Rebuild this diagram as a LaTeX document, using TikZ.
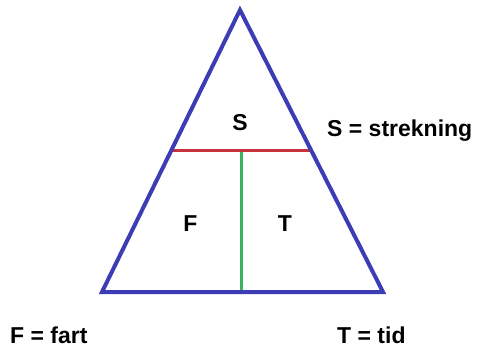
\documentclass[tikz,border=0pt]{standalone}
\usepackage{fontspec}
\setmainfont{Liberation Sans}
\usetikzlibrary{calc}
\definecolor{triblue}{RGB}{60,60,180}
\definecolor{linered}{RGB}{200,50,60}
\definecolor{linegreen}{RGB}{60,180,95}
\begin{document}
\begin{tikzpicture}[x=1pt,y=-1pt,
  edge/.style={line width=4pt,line join=miter},
  lbl/.style={font=\fontsize{23}{26}\selectfont\bfseries,inner sep=0pt,text depth=0pt}]
\useasboundingbox (0,0) rectangle (477,350);
\coordinate (top) at (240,10);
\coordinate (bl) at (102,292);
\coordinate (br) at (383,292);
\coordinate (rl) at ($(top)!0.5!(bl)$);
\coordinate (rr) at ($(top)!0.5!(br)$);
\coordinate (gt) at (241,151);
\coordinate (gb) at (241,292);
\draw[edge,linegreen,line width=3pt] (gt) -- (gb);
\draw[edge,linered,line width=3pt] (rl) -- (rr);
\draw[edge,triblue] (top) -- (bl) -- (br) -- cycle;
\node[lbl,anchor=base] (s) at (240,130.5) {S};
\node[lbl,anchor=base] (f) at (190.5,232) {F};
\node[lbl,anchor=base] (t) at (285,232) {T};
\node[lbl,anchor=base west] (sdef) at (327,136.5) {S = strekning};
\node[lbl,anchor=base west] (fdef) at (10,343.5) {F = fart};
\node[lbl,anchor=base west] (tdef) at (337,343.5) {T = tid};
\end{tikzpicture}
\end{document}
